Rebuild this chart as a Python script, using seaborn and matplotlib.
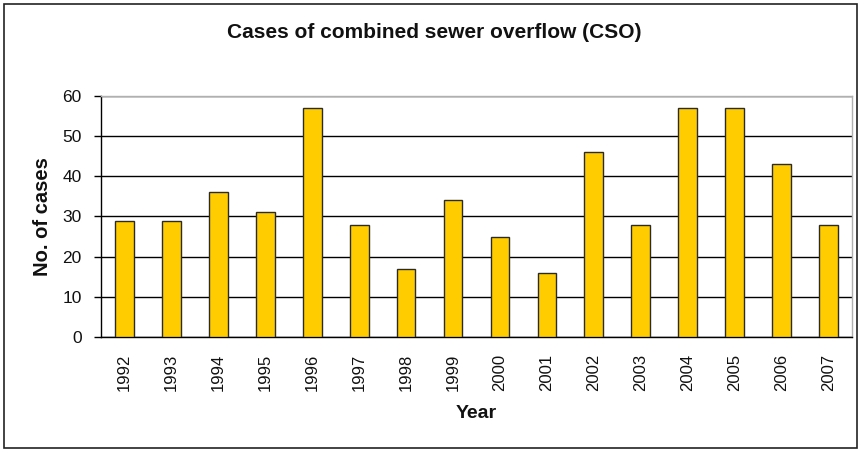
import matplotlib
matplotlib.use("Agg")
import matplotlib.pyplot as plt
import matplotlib.patches as mpatches
import seaborn as sns
import pandas as pd
import numpy as np

years = ["1992", "1993", "1994", "1995", "1996", "1997", "1998", "1999",
         "2000", "2001", "2002", "2003", "2004", "2005", "2006", "2007"]
cases = [29, 29, 36, 31, 57, 28, 17, 34, 25, 16, 46, 28, 57, 57, 43, 28]
y_ticks = [0, 10, 20, 30, 40, 50, 60]

sns.set_theme(style="white")
plt.rcParams["font.family"] = ["Liberation Sans", "DejaVu Sans"]

df = pd.DataFrame({"Year": years, "Cases": cases})

W, H = 861, 451
fig = plt.figure(figsize=(W / 100, H / 100), dpi=100)
left, right, top, bottom = 101, 852, 96, 337
ax = fig.add_axes([left / W, 1 - bottom / H, (right - left) / W, (bottom - top) / H])

sns.barplot(data=df, x="Year", y="Cases", color="#FFCC00", width=0.4,
            edgecolor="#2b2b2b", linewidth=1.0, saturation=1, ax=ax, zorder=3)

ax.set_ylim(0, 60)
ax.set_xlim(-0.5, len(years) - 0.5)
ax.set_yticks(y_ticks)
ax.set_yticklabels([str(v) for v in y_ticks], fontsize=12.5, color="#111111")
ax.yaxis.grid(True, color="black", linewidth=1.0, zorder=1)
ax.set_axisbelow(True)

# tick marks sit between the categories
ax.set_xticks(np.arange(len(years)))
ax.set_xticklabels(years, rotation=90, fontsize=12, color="#111111")
ax.set_xticks(np.arange(-0.5, len(years)), minor=True)
ax.tick_params(axis="x", which="major", length=0, pad=12)
ax.tick_params(axis="x", which="minor", length=5, width=1, color="black", direction="out")
ax.tick_params(axis="y", which="major", length=5, width=1, color="black", direction="out",
               left=True, pad=9)

for side in ["left", "bottom"]:
    ax.spines[side].set_color("black")
    ax.spines[side].set_linewidth(1.0)
for side in ["top", "right"]:
    ax.spines[side].set_color("#b0b0b0")
    ax.spines[side].set_linewidth(1.0)

ax.set_xlabel("Year", fontsize=14, fontweight="bold", color="#111111")
ax.xaxis.label.set_va("center")
ax.xaxis.set_label_coords(0.5, -(413 - bottom) / (bottom - top))

ax.set_ylabel("No. of cases", fontsize=14.5, fontweight="bold", color="#111111")
ax.yaxis.label.set_va("center")
ax.yaxis.set_label_coords(-(left - 43) / (right - left), (bottom - 217) / (bottom - top))

fig.text(434 / W, 1 - 33 / H, "Cases of combined sewer overflow (CSO)",
         ha="center", va="center", fontsize=15, fontweight="bold", color="#111111")

# outer chart frame
fig.patches.append(mpatches.Rectangle((4 / W, 3 / H), 853 / W, 444 / H,
                                      transform=fig.transFigure, fill=False,
                                      edgecolor="#222222", linewidth=1.2))

fig.savefig("out.png", dpi=100)
